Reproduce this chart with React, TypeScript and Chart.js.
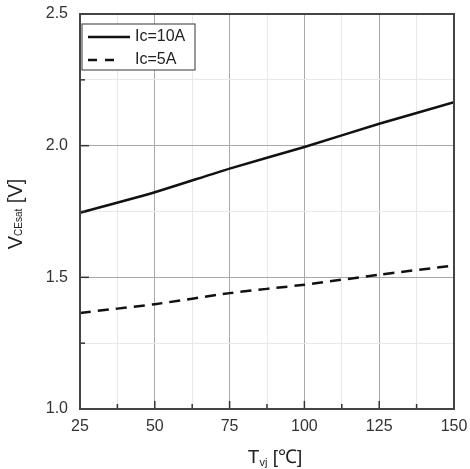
import React, { useEffect, useRef } from "react";
import { Chart, registerables } from "chart.js";

Chart.register(...registerables);

const temps = [25, 50, 75, 100, 125, 150];
const vce10A = [1.745, 1.823, 1.913, 1.995, 2.083, 2.165];
const vce5A = [1.365, 1.398, 1.44, 1.472, 1.51, 1.545];
const seriesLabels = ["Ic=10A", "Ic=5A"];

const FONT = '"Liberation Sans", Arial, sans-serif';

const isMult = (v: number, step: number) => Math.abs(v / step - Math.round(v / step)) < 1e-6;

const decorPlugin = {
  id: "decor",
  afterDraw(chart: any) {
    const { ctx, chartArea: a, scales } = chart;
    const xs = scales.x;
    const ys = scales.y;
    ctx.save();
    // inward ticks
    ctx.strokeStyle = "#333";
    ctx.lineWidth = 1.5;
    xs.ticks.forEach((t: any) => {
      const px = xs.getPixelForValue(t.value);
      const len = isMult(t.value, 25) ? 8 : 5;
      ctx.beginPath();
      ctx.moveTo(px, a.bottom);
      ctx.lineTo(px, a.bottom - len);
      ctx.stroke();
    });
    ys.ticks.forEach((t: any) => {
      const py = ys.getPixelForValue(t.value);
      const len = isMult(t.value, 0.5) ? 9 : 5;
      ctx.beginPath();
      ctx.moveTo(a.left, py);
      ctx.lineTo(a.left + len, py);
      ctx.stroke();
    });
    // frame
    ctx.strokeStyle = "#444";
    ctx.lineWidth = 2;
    ctx.strokeRect(a.left, a.top, a.right - a.left, a.bottom - a.top);

    // legend
    const lx = a.left + 2, ly = a.top + 10, lw = 113, lh = 46;
    ctx.fillStyle = "#fff";
    ctx.fillRect(lx, ly, lw, lh);
    ctx.strokeStyle = "#555";
    ctx.lineWidth = 1.2;
    ctx.strokeRect(lx, ly, lw, lh);
    ctx.strokeStyle = "#111";
    ctx.lineWidth = 2.5;
    ctx.beginPath();
    ctx.moveTo(lx + 6, ly + 13);
    ctx.lineTo(lx + 48, ly + 13);
    ctx.stroke();
    ctx.setLineDash([9, 8]);
    ctx.beginPath();
    ctx.moveTo(lx + 6, ly + 36);
    ctx.lineTo(lx + 40, ly + 36);
    ctx.stroke();
    ctx.setLineDash([]);
    ctx.fillStyle = "#222";
    ctx.font = `16px ${FONT}`;
    ctx.textBaseline = "middle";
    ctx.textAlign = "left";
    ctx.fillText(seriesLabels[0], lx + 53, ly + 13);
    ctx.fillText(seriesLabels[1], lx + 53, ly + 36);

    // x title: T_vj [℃]
    ctx.textBaseline = "alphabetic";
    const big = `19px ${FONT}`;
    const small = `11px ${FONT}`;
    ctx.font = big;
    const wT = ctx.measureText("T").width;
    const wU = ctx.measureText(" [℃]").width;
    ctx.font = small;
    const wS = ctx.measureText("vj").width;
    const x0 = 275 - (wT + wS + wU) / 2;
    const by = 463;
    ctx.font = big;
    ctx.fillText("T", x0, by);
    ctx.font = small;
    ctx.fillText("vj", x0 + wT, by + 3);
    ctx.font = big;
    ctx.fillText(" [℃]", x0 + wT + wS, by);

    // y title: V_CEsat [V]
    ctx.save();
    ctx.translate(22, 214);
    ctx.rotate(-Math.PI / 2);
    ctx.font = `20px ${FONT}`;
    const wV = ctx.measureText("V").width;
    const wB = ctx.measureText(" [V]").width;
    ctx.font = `10px ${FONT}`;
    const wC = ctx.measureText("CEsat").width;
    const s0 = -(wV + wC + wB) / 2;
    ctx.font = `20px ${FONT}`;
    ctx.fillText("V", s0, 0);
    ctx.font = `10px ${FONT}`;
    ctx.fillText("CEsat", s0 + wV, 0);
    ctx.font = `20px ${FONT}`;
    ctx.fillText(" [V]", s0 + wV + wC, 0);
    ctx.restore();

    ctx.restore();
  },
};

export default function App() {
  const ref = useRef<HTMLCanvasElement | null>(null);

  useEffect(() => {
    if (!ref.current) return;
    const chart = new Chart(ref.current, {
      type: "line",
      data: {
        datasets: [
          {
            label: seriesLabels[0],
            data: temps.map((t, i) => ({ x: t, y: vce10A[i] })),
            borderColor: "#111",
            borderWidth: 2.5,
            pointRadius: 0,
            tension: 0.2,
            fill: false,
          },
          {
            label: seriesLabels[1],
            data: temps.map((t, i) => ({ x: t, y: vce5A[i] })),
            borderColor: "#111",
            borderWidth: 2.5,
            borderDash: [11, 7],
            pointRadius: 0,
            tension: 0.2,
            fill: false,
          },
        ],
      },
      options: {
        animation: false,
        responsive: true,
        maintainAspectRatio: false,
        layout: { padding: { top: 14, right: 16, left: 0, bottom: 0 } },
        plugins: { legend: { display: false }, tooltip: { enabled: false } },
        scales: {
          x: {
            type: "linear",
            min: 25,
            max: 150,
            afterFit: (s: any) => {
              s.height = 60;
              s.paddingLeft = 0;
              s.paddingRight = 0;
            },
            ticks: {
              stepSize: 12.5,
              autoSkip: false,
              maxRotation: 0,
              padding: 8,
              color: "#333",
              font: { size: 16, family: FONT },
              callback: (v: any) => (isMult(Number(v), 25) ? String(Math.round(Number(v))) : ""),
            },
            grid: {
              drawTicks: false,
              color: (c: any) => (c.tick && isMult(c.tick.value, 25) ? "#a8a8a8" : "#e8e8e8"),
              lineWidth: 1,
            },
            border: { display: false },
          },
          y: {
            type: "linear",
            min: 1.0,
            max: 2.5,
            afterFit: (s: any) => {
              s.width = 80;
              s.paddingTop = 0;
              s.paddingBottom = 0;
            },
            ticks: {
              stepSize: 0.25,
              autoSkip: false,
              padding: 12,
              color: "#333",
              font: { size: 16, family: FONT },
              callback: (v: any) => (isMult(Number(v), 0.5) ? Number(v).toFixed(1) : ""),
            },
            grid: {
              drawTicks: false,
              color: (c: any) => (c.tick && isMult(c.tick.value, 0.5) ? "#a8a8a8" : "#e8e8e8"),
              lineWidth: 1,
            },
            border: { display: false },
          },
        },
      },
      plugins: [decorPlugin],
    } as any);
    return () => chart.destroy();
  }, []);

  return (
    <div style={{ position: "absolute", left: 0, top: 0, width: 470, height: 469, background: "#fff" }}>
      <canvas ref={ref} />
    </div>
  );
}
